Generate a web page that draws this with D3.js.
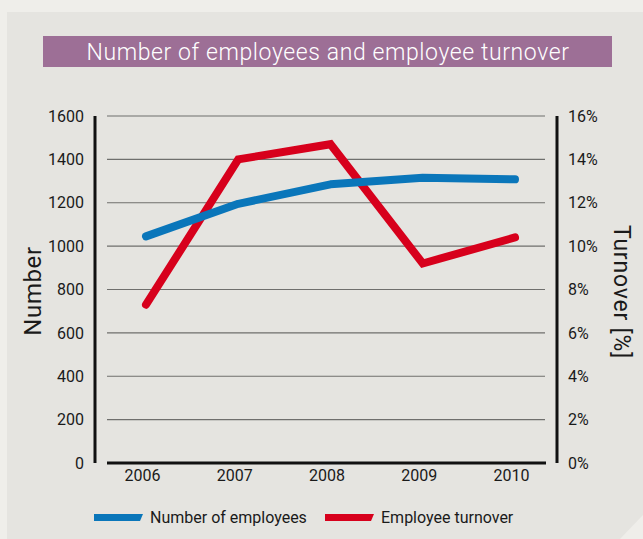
<!DOCTYPE html>
<html>
<head>
<meta charset="utf-8">
<script src="https://cdn.jsdelivr.net/npm/d3@7"></script>
<style>
  html, body { margin: 0; padding: 0; background: #efeeea; }
  svg { display: block; }
  text { font-family: Roboto, "DejaVu Sans", sans-serif; }
</style>
</head>
<body>
<svg id="chart" width="643" height="539"></svg>
<script>
// Headcount and turnover by year
const years = ["2006", "2007", "2008", "2009", "2010"];
const employees = [1045, 1195, 1285, 1315, 1308];
const turnover = [7.3, 14.0, 14.7, 9.2, 10.4];
const leftTicks = [0, 200, 400, 600, 800, 1000, 1200, 1400, 1600];
const rightTicks = [0, 2, 4, 6, 8, 10, 12, 14, 16];
const seriesNames = ["Number of employees", "Employee turnover"];
const titleText = "Number of employees and employee turnover";

const W = 643, H = 539;
const svg = d3.select("#chart");

const blue = "#0a76ba", red = "#d7001c";

// panel with clipped bottom-right corner
svg.append("rect").attr("width", W).attr("height", H).attr("fill", "#efeeea");
svg.append("polygon")
  .attr("points", [[7, 12], [643, 12], [643, 515], [620, 539], [7, 539]].map(p => p.join(",")).join(" "))
  .attr("fill", "#e5e4e0");

// title band
svg.append("rect").attr("x", 43).attr("y", 36).attr("width", 569).attr("height", 31).attr("fill", "#9d6f96");
svg.append("text")
  .attr("x", 328).attr("y", 52).attr("dy", "0.36em")
  .attr("text-anchor", "middle").attr("fill", "#ffffff")
  .attr("font-size", 23).attr("font-weight", 300)
  .attr("letter-spacing", 0.6)
  .text(titleText);

// scales
const x = d3.scalePoint().domain(years).range([146, 515]);
const y = d3.scaleLinear().domain([0, 1600]).range([463, 116]);
const yR = d3.scaleLinear().domain([0, 16]).range([463, 116]);

// gridlines
svg.append("g").selectAll("line")
  .data(leftTicks.filter(d => d > 0))
  .join("line")
  .attr("x1", 107).attr("x2", 545)
  .attr("y1", d => y(d)).attr("y2", d => y(d))
  .attr("stroke", "#6f6f6d").attr("stroke-width", 1.2);

// axis frame lines
svg.append("line").attr("x1", 95).attr("x2", 95).attr("y1", y(1600)).attr("y2", y(0))
  .attr("stroke", "#111").attr("stroke-width", 3);
svg.append("line").attr("x1", 557).attr("x2", 557).attr("y1", yR(16)).attr("y2", yR(0))
  .attr("stroke", "#111").attr("stroke-width", 3);
svg.append("line").attr("x1", 107).attr("x2", 546).attr("y1", y(0)).attr("y2", y(0))
  .attr("stroke", "#111").attr("stroke-width", 3);

// left axis labels
const gl = svg.append("g").attr("transform", "translate(86,0)")
  .call(d3.axisLeft(y).tickValues(leftTicks).tickSize(0).tickPadding(2).tickFormat(d3.format("d")));
gl.select(".domain").remove();
gl.selectAll("text").attr("font-size", 16).attr("fill", "#1a1a1a").attr("font-family", "Roboto, sans-serif");

// right axis labels
const gr = svg.append("g").attr("transform", "translate(566,0)")
  .call(d3.axisRight(yR).tickValues(rightTicks).tickSize(0).tickPadding(2).tickFormat(d => d + "%"));
gr.select(".domain").remove();
gr.selectAll("text").attr("font-size", 16).attr("fill", "#1a1a1a").attr("font-family", "Roboto, sans-serif");

// bottom axis labels
const gb = svg.append("g").attr("transform", "translate(-4,470)")
  .call(d3.axisBottom(x).tickSize(0).tickPadding(0));
gb.select(".domain").remove();
gb.selectAll("text").attr("font-size", 16).attr("fill", "#1a1a1a").attr("font-family", "Roboto, sans-serif");

// axis titles
svg.append("text")
  .attr("transform", "translate(33,291) rotate(-90)")
  .attr("text-anchor", "middle").attr("dy", "0.35em")
  .attr("font-size", 24).attr("letter-spacing", 0.6).attr("fill", "#1a1a1a")
  .text("Number");
svg.append("text")
  .attr("transform", "translate(622,292) rotate(90)")
  .attr("text-anchor", "middle").attr("dy", "0.35em")
  .attr("font-size", 23).attr("letter-spacing", 0.8).attr("fill", "#1a1a1a")
  .text("Turnover [%]");

// series lines
const lineEmp = d3.line().x((d, i) => x(years[i])).y(d => y(d));
const lineTurn = d3.line().x((d, i) => x(years[i])).y(d => yR(d));

svg.append("path").datum(turnover)
  .attr("d", lineTurn)
  .attr("fill", "none").attr("stroke", red).attr("stroke-width", 8)
  .attr("stroke-linecap", "round").attr("stroke-linejoin", "miter");
svg.append("path").datum(employees)
  .attr("d", lineEmp)
  .attr("fill", "none").attr("stroke", blue).attr("stroke-width", 8)
  .attr("stroke-linecap", "round").attr("stroke-linejoin", "round");

// legend
const legendItems = [
  { name: seriesNames[0], color: blue, x: 94 },
  { name: seriesNames[1], color: red, x: 325 }
];
const lg = svg.append("g");
legendItems.forEach(it => {
  lg.append("polygon")
    .attr("points", [[it.x, 514], [it.x + 49, 514], [it.x + 46, 521], [it.x, 521]].map(p => p.join(",")).join(" "))
    .attr("fill", it.color);
  lg.append("text")
    .attr("x", it.x + 56).attr("y", 517.5).attr("dy", "0.35em")
    .attr("font-size", 16).attr("fill", "#1a1a1a")
    .text(it.name);
});
</script>
</body>
</html>
